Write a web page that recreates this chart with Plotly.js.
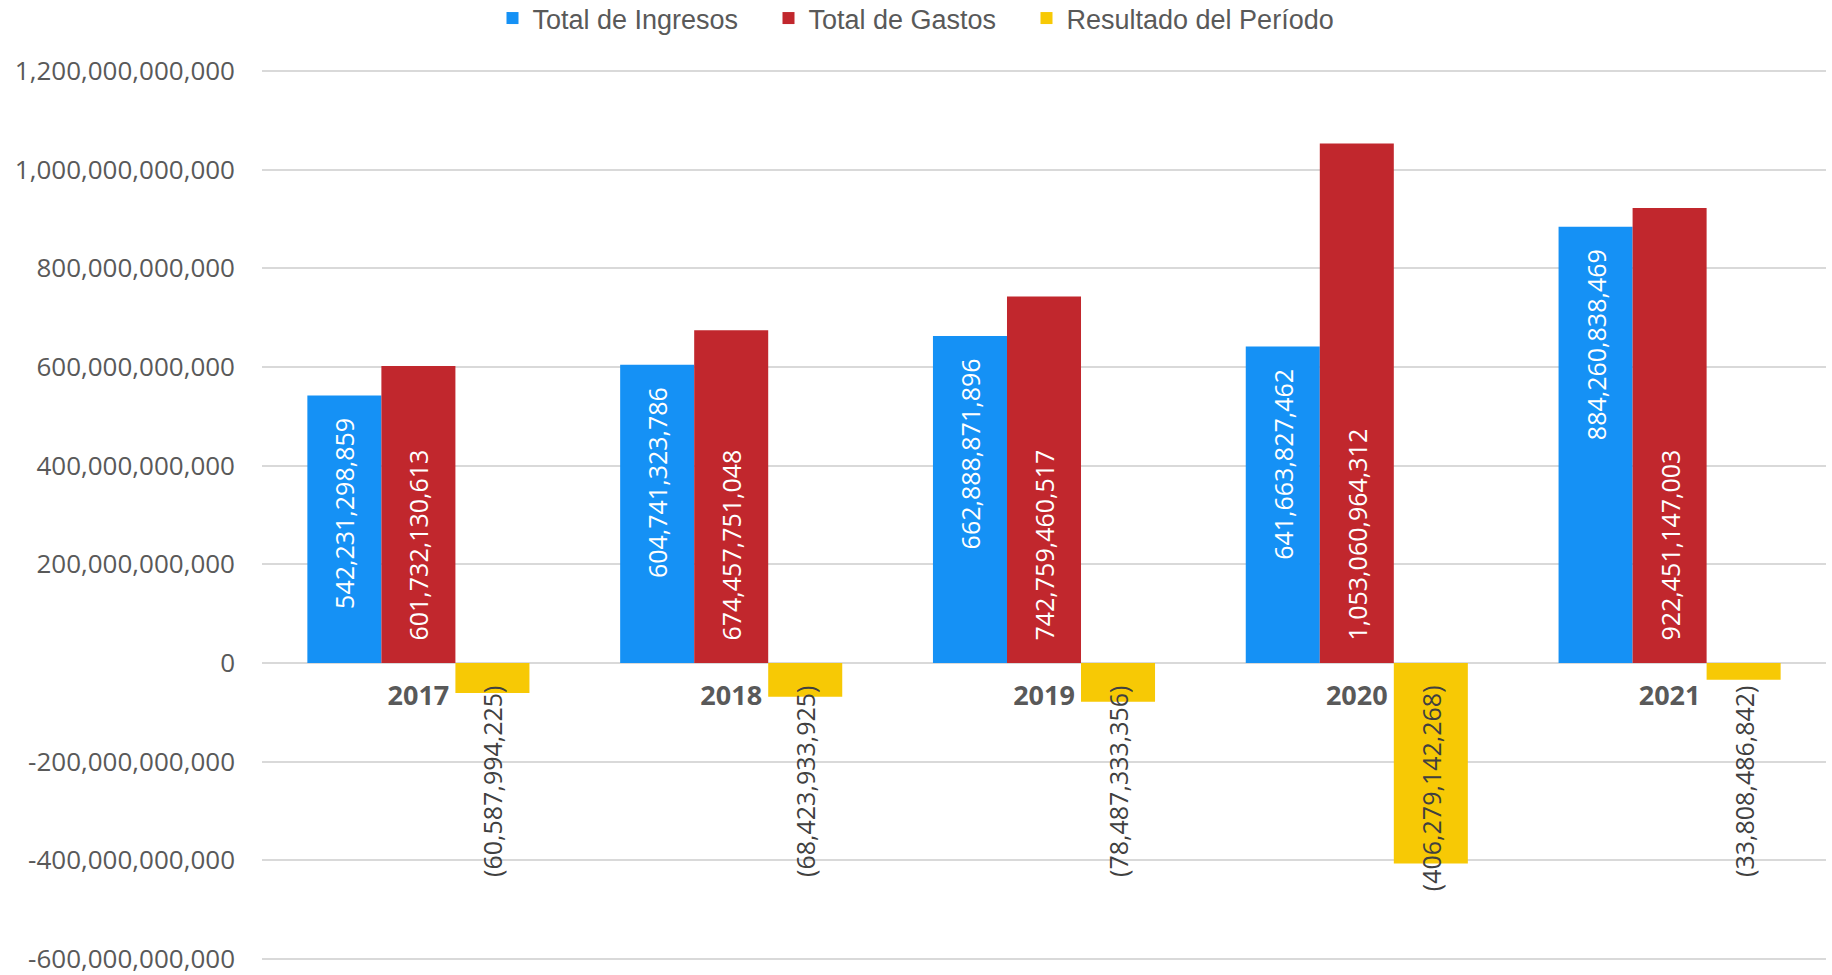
<!DOCTYPE html>
<html>
<head>
<meta charset="utf-8">
<script src="https://cdn.plot.ly/plotly-3.0.1.min.js"></script>
<style>html,body{margin:0;padding:0;background:#fff;}#chart{width:1832px;height:975px;}</style>
</head>
<body>
<div id="chart"></div>
<script>
const years = ['2017', '2018', '2019', '2020', '2021'];
const totalIngresos = [542231298859, 604741323786, 662888871896, 641663827462, 884260838469];
const totalGastos = [601732130613, 674457751048, 742759460517, 1053060964312, 922451147003];
const resultadoPeriodo = [-60587994225, -68423933925, -78487333356, -406279142268, -33808486842];
const yTickVals = [-600e9, -400e9, -200e9, 0, 200e9, 400e9, 600e9, 800e9, 1000e9, 1200e9];

function fmt(v) {
  const s = Math.abs(v).toLocaleString('en-US');
  return v < 0 ? '(' + s + ')' : s;
}
const PAD = '\u00a0\u00a0\u00a0';
const yTickText = yTickVals.map(v => v.toLocaleString('en-US'));

const yMin = -610e9, yMax = 1210e9;
const labelFont = {family: 'Open Sans, Noto Sans, sans-serif', size: 25};

const traces = [
  {
    type: 'bar', name: 'Total de Ingresos', x: years, y: totalIngresos,
    marker: {color: '#1591F5'}, legendwidth: 231,
    text: totalIngresos.map(v => fmt(v) + PAD),
    textposition: 'inside', insidetextanchor: 'end', textangle: -90,
    insidetextfont: Object.assign({color: '#ffffff'}, labelFont),
    constraintext: 'none', hoverinfo: 'x+y'
  },
  {
    type: 'bar', name: 'Total de Gastos', x: years, y: totalGastos,
    marker: {color: '#C1272D'}, legendwidth: 213,
    text: totalGastos.map(v => PAD + fmt(v)),
    textposition: 'inside', insidetextanchor: 'start', textangle: -90,
    insidetextfont: Object.assign({color: '#ffffff'}, labelFont),
    constraintext: 'none', hoverinfo: 'x+y'
  },
  {
    type: 'bar', name: 'Resultado del Período', x: years, y: resultadoPeriodo,
    marker: {color: '#F7C905'}, legendwidth: 268,
    text: resultadoPeriodo.map(v => fmt(v) + PAD),
    textposition: 'inside', insidetextanchor: 'start', textangle: -90,
    insidetextfont: Object.assign({color: '#404040'}, labelFont),
    constraintext: 'none', cliponaxis: false, hoverinfo: 'x+y'
  }
];

const layout = {
  width: 1832, height: 975,
  margin: {l: 262, r: 6, t: 66, b: 11, autoexpand: false},
  paper_bgcolor: '#ffffff', plot_bgcolor: '#ffffff',
  barmode: 'group', bargap: 0.29, bargroupgap: 0,
  showlegend: true,
  legend: {
    orientation: 'h', xref: 'paper', yref: 'paper',
    x: (916 - 262) / 1564, xanchor: 'center', y: 1 + 72 / 898, yanchor: 'top',
    font: {family: 'Liberation Sans, Arial, sans-serif', size: 27, color: '#595959'},
    traceorder: 'normal', itemclick: false
  },
  xaxis: {
    type: 'category', anchor: 'free', position: (0 - yMin) / (yMax - yMin),
    showgrid: false, showline: false, zeroline: false, ticks: '',
    ticklabelstandoff: 14,
    tickfont: {family: 'Open Sans, Noto Sans, sans-serif', size: 27, color: '#595959', weight: 'bold'}
  },
  yaxis: {
    range: [yMin, yMax], tickmode: 'array', tickvals: yTickVals, ticktext: yTickText,
    showgrid: true, gridcolor: '#d9d9d9', gridwidth: 1.5,
    zeroline: true, zerolinecolor: '#d9d9d9', zerolinewidth: 1.5,
    showline: false, ticks: '', ticklabelstandoff: 26, ticklabeloverflow: 'allow',
    tickfont: {family: 'Open Sans, Noto Sans, sans-serif', size: 26, color: '#595959'}
  }
};

Plotly.newPlot('chart', traces, layout, {displayModeBar: false, responsive: false});
</script>
</body>
</html>
